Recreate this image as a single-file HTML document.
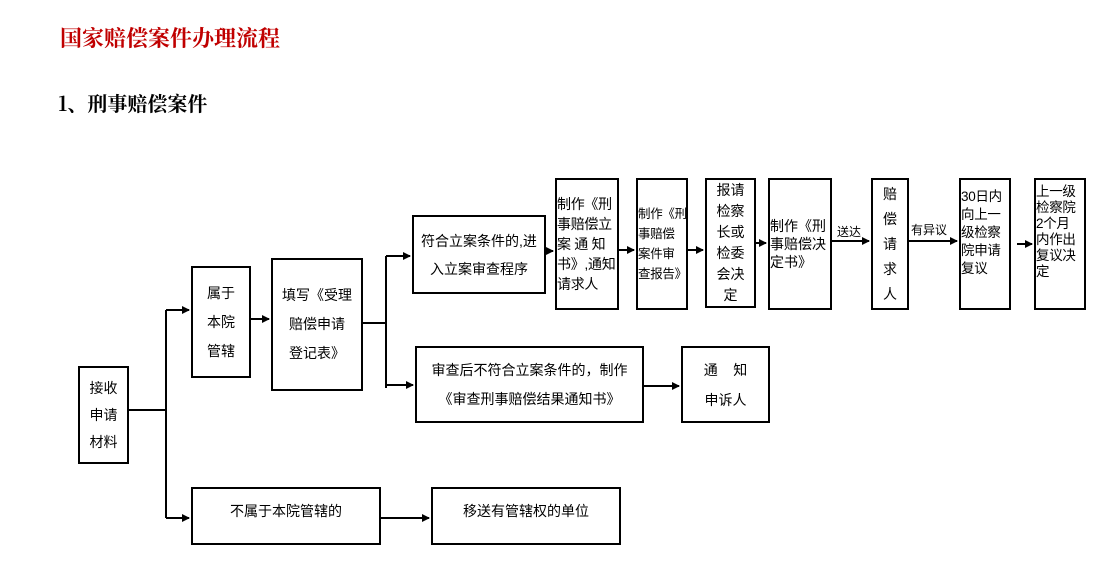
<!DOCTYPE html>
<html><head><meta charset="utf-8"><style>
body{margin:0;width:1105px;height:584px;background:#fff;position:relative;overflow:hidden;font-family:"Liberation Sans","Noto Sans CJK SC",sans-serif;}
.t{position:absolute;white-space:nowrap;}
.b{position:absolute;border:2px solid #000;box-sizing:border-box;font-size:14px;color:#000;display:flex;align-items:center;justify-content:center;text-align:center;white-space:nowrap;}
.l{text-align:left;justify-content:flex-start;}
.n{font-size:12.5px;letter-spacing:-0.3px;}
svg{position:absolute;left:0;top:0;}
</style></head><body>
<div class="t" style="left:60px;top:22px;font-size:22px;color:#c00000;font-weight:bold;font-family:'Noto Serif CJK SC',serif;">国家赔偿案件办理流程</div>
<div class="t" style="left:58px;top:88px;font-size:20px;color:#000;font-weight:bold;font-family:'Noto Serif CJK SC',serif;">1、刑事赔偿案件</div>

<svg width="1105" height="584">
<defs><marker id="a" markerWidth="8" markerHeight="8" refX="7" refY="4" orient="auto" markerUnits="userSpaceOnUse"><path d="M0,0 L8,4 L0,8z" fill="#000"/></marker></defs>
<g stroke="#000" stroke-width="2" fill="none">
<path d="M128,410 H166 M166,310 V518"/>
<path d="M166,310 H189" marker-end="url(#a)"/>
<path d="M166,518 H189" marker-end="url(#a)"/>
<path d="M250,319 H269" marker-end="url(#a)"/>
<path d="M362,323 H386 M386,256 V388"/>
<path d="M386,256 H410" marker-end="url(#a)"/>
<path d="M386,385 H413" marker-end="url(#a)"/>
<path d="M545,251 H553" marker-end="url(#a)"/>
<path d="M618,250 H634" marker-end="url(#a)"/>
<path d="M687,250 H703" marker-end="url(#a)"/>
<path d="M755,243 H766" marker-end="url(#a)"/>
<path d="M831,241 H869" marker-end="url(#a)"/>
<path d="M908,241 H957" marker-end="url(#a)"/>
<path d="M1017,244 H1032" marker-end="url(#a)"/>
<path d="M643,386 H679" marker-end="url(#a)"/>
<path d="M380,518 H429" marker-end="url(#a)"/>
</g>
<text x="837" y="236" font-size="12" font-family="Noto Sans CJK SC">送达</text>
<text x="911" y="234" font-size="12" font-family="Noto Sans CJK SC">有异议</text>
</svg>

<div class="b" style="left:78px;top:366px;width:51px;height:98px;line-height:27px;">接收<br>申请<br>材料</div>
<div class="b" style="left:191px;top:266px;width:60px;height:112px;line-height:29px;">属于<br>本院<br>管辖</div>
<div class="b" style="left:271px;top:258px;width:92px;height:133px;line-height:29px;">填写《受理<br>赔偿申请<br>登记表》</div>
<div class="b" style="left:412px;top:215px;width:134px;height:79px;line-height:28px;">符合立案条件的,进<br>入立案审查程序</div>
<div class="b l n" style="left:555px;top:178px;width:64px;height:132px;line-height:20px;font-size:14px;">制作《刑<br>事赔偿立<br>案&nbsp;通&nbsp;知<br>书》,通知<br>请求人</div>
<div class="b l n" style="left:636px;top:178px;width:52px;height:132px;line-height:20px;">制作《刑<br>事赔偿<br>案件审<br>查报告》</div>
<div class="b" style="left:705px;top:178px;width:51px;height:130px;line-height:21px;">报请<br>检察<br>长或<br>检委<br>会决<br>定</div>
<div class="b l" style="left:768px;top:178px;width:64px;height:132px;line-height:18px;">制作《刑<br>事赔偿决<br>定书》</div>
<div class="b" style="left:871px;top:178px;width:38px;height:132px;line-height:25px;">赔<br>偿<br>请<br>求<br>人</div>
<div class="b l n" style="left:959px;top:178px;width:52px;height:132px;line-height:18px;align-items:flex-start;padding-top:8px;font-size:13.5px;">30日内<br>向上一<br>级检察<br>院申请<br>复议</div>
<div class="b l n" style="left:1034px;top:178px;width:52px;height:132px;line-height:16px;align-items:flex-start;padding-top:4px;font-size:13.5px;">上一级<br>检察院<br>2个月<br>内作出<br>复议决<br>定</div>
<div class="b" style="left:415px;top:346px;width:229px;height:77px;line-height:29px;">审查后不符合立案条件的，制作<br>《审查刑事赔偿结果通知书》</div>
<div class="b" style="left:681px;top:346px;width:89px;height:77px;line-height:30px;">通&nbsp;&nbsp;&nbsp;&nbsp;知<br>申诉人</div>
<div class="b" style="left:191px;top:487px;width:190px;height:58px;align-items:flex-start;padding-top:12px;">不属于本院管辖的</div>
<div class="b" style="left:431px;top:487px;width:190px;height:58px;align-items:flex-start;padding-top:12px;">移送有管辖权的单位</div>
</body></html>
